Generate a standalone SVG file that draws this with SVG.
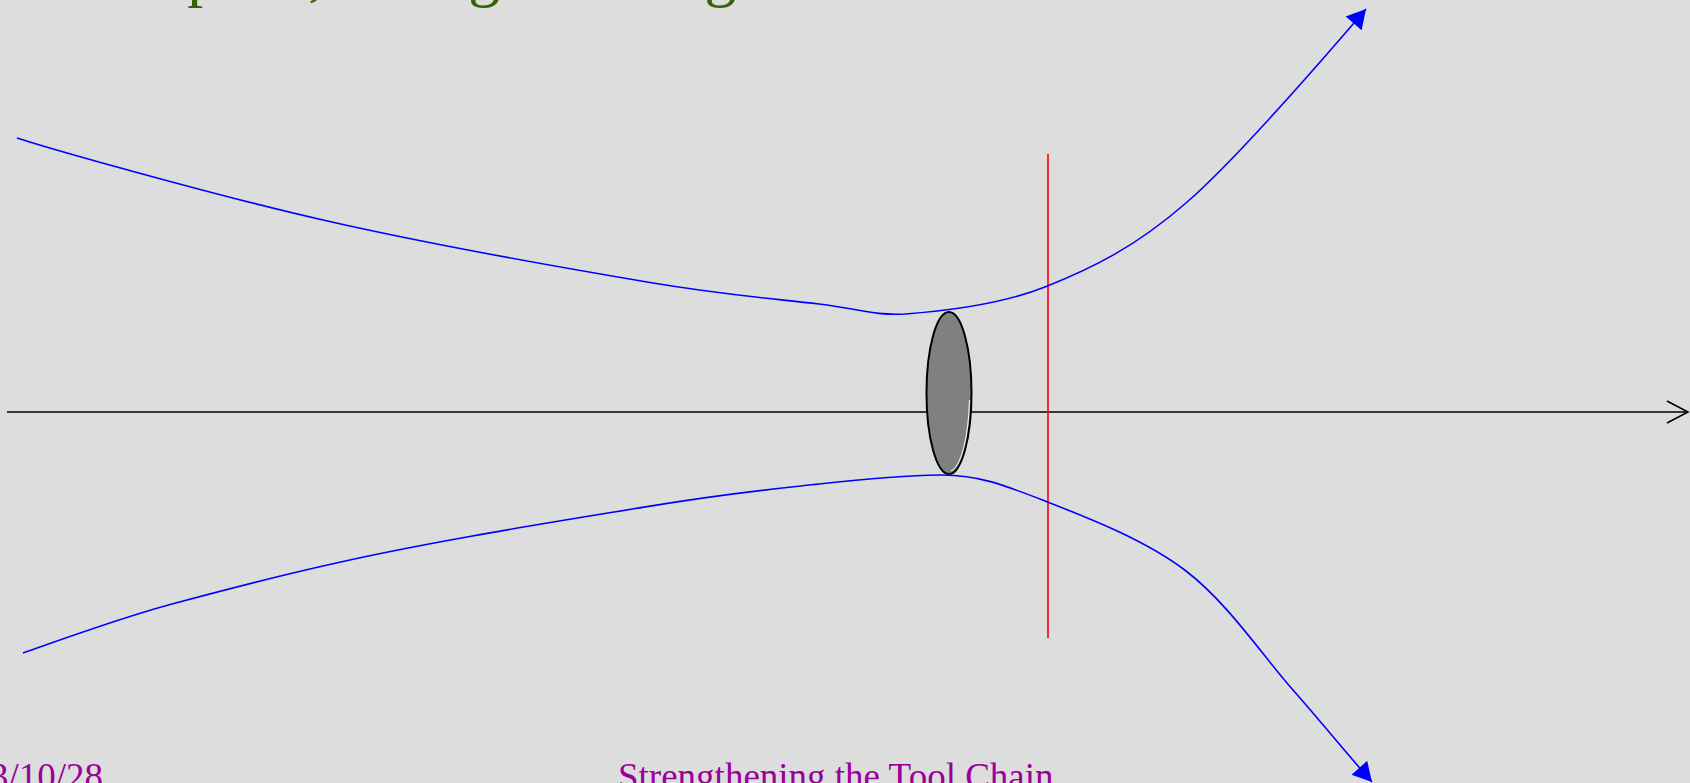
<svg xmlns="http://www.w3.org/2000/svg" width="1690" height="783" viewBox="0 0 1690 783">
  <style>
    .beam { fill: none; stroke: #0000ff; stroke-width: 1.6; }
    .axis { fill: none; stroke: #000000; stroke-width: 1.6; }
    .plane { fill: none; stroke: #ff0000; stroke-width: 1.6; }
    .title { font-family: "Liberation Serif", "Times New Roman", serif; font-size: 64px; fill: #336600; }
    .foot { font-family: "Liberation Serif", "Times New Roman", serif; font-size: 37px; fill: #990099; }
  </style>
  <defs>
    <marker id="solidArrow" markerUnits="userSpaceOnUse" markerWidth="19" markerHeight="21" refX="19" refY="10.5" orient="auto" overflow="visible">
      <path d="M0,0 L19,10.5 L0,21 Z" fill="#0000ff"/>
    </marker>
    <marker id="openArrow" markerUnits="userSpaceOnUse" markerWidth="22" markerHeight="23" refX="21" refY="11.5" orient="auto" overflow="visible">
      <path d="M0,0.5 L21,11.5 L0,22.5" fill="none" stroke="#000000" stroke-width="1.6"/>
    </marker>
  </defs>
  <rect x="0" y="0" width="1690" height="783" fill="#dddddd"/>

  <g id="title">
    <text class="title" x="-10" y="-6">Beam optics, strong focusing</text>
  </g>

  <g id="axis">
    <line class="axis" x1="7" y1="412" x2="1688" y2="412" marker-end="url(#openArrow)"/>
  </g>

  <g id="lens">
    <ellipse cx="949" cy="393" rx="22.5" ry="81" fill="#808080" stroke="#000000" stroke-width="2"/>
    <path d="M969.5,400 A20.5,79 0 0 1 951,471" fill="none" stroke="#ffffff" stroke-width="1"/>
  </g>

  <g id="image-plane">
    <line class="plane" x1="1048" y1="154" x2="1048" y2="638"/>
  </g>

  <g id="connectors">
    <path class="beam" marker-end="url(#solidArrow)" d="M17,138 C45,147 120,168 172,182 C224,196 270,208 323,220 C428,244 564,268 647,282 C730,296 776,298.7 819,304 C862,309.3 872,315.5 905,314 C942.7,311.2 998,305.5 1045,287 C1091.8,268.5 1135,247.3 1186,203 C1239.5,156.7 1336,44 1366,9"/>
    <path class="beam" marker-end="url(#solidArrow)" d="M23,653 C50,643.5 120,618 172,604 C224,590 270,578 323,566 C427,541.6 564.3,520.3 647,506.6 C729.7,492.9 770.2,489.3 819,484 C867.8,478.7 902.3,475.5 940,475 C977.7,474.5 1004,485 1045,501 C1086,517 1144.7,539.5 1186,571 C1227.3,602.5 1262,654.8 1293,690 C1324,725.2 1347,754 1372,782"/>
  </g>

  <g id="footer">
    <text class="foot" x="103" y="789" text-anchor="end">03/10/28</text>
    <text class="foot" x="618" y="789">Strengthening the Tool Chain</text>
  </g>
</svg>
